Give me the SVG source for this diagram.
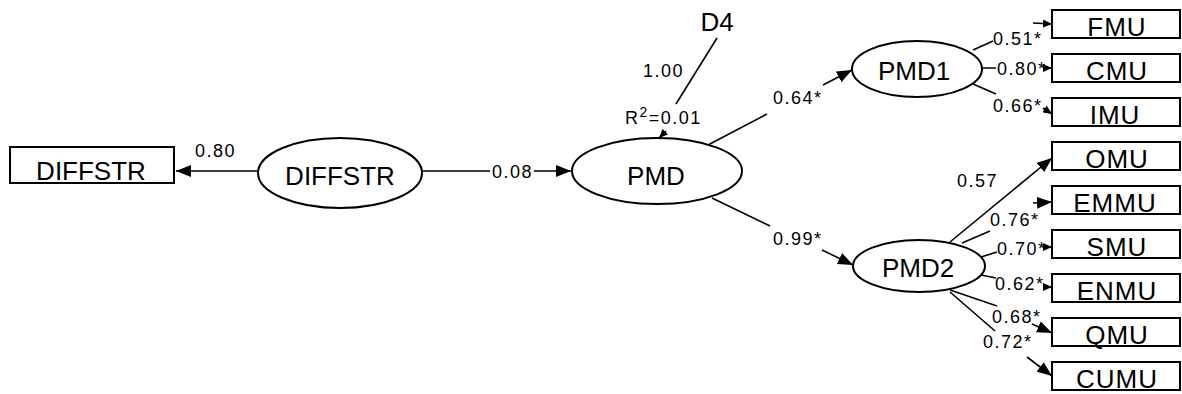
<svg xmlns="http://www.w3.org/2000/svg" width="1182" height="394" viewBox="0 0 1182 394">
<style>
.box{fill:#fff;stroke:#000;stroke-width:2}
.ell{fill:#fff;stroke:#000;stroke-width:2}
.big{font-family:"Liberation Sans",Arial,sans-serif;font-size:26px;fill:#000;text-anchor:middle}
.bx{font-family:"Liberation Sans",Arial,sans-serif;font-size:26px;letter-spacing:1px;fill:#000;text-anchor:middle}
.lbl{font-family:"Liberation Sans",Arial,sans-serif;font-size:18px;letter-spacing:1.5px;fill:#000}
.con{fill:none;stroke:#000;stroke-width:1.6}
</style>
<defs>
<marker id="ah" markerUnits="userSpaceOnUse" markerWidth="16" markerHeight="12" refX="15" refY="6" orient="auto">
<path d="M0,0 L15,6 L0,12 z" fill="#000"/>
</marker>
<marker id="as" markerUnits="userSpaceOnUse" markerWidth="10" markerHeight="8" refX="9" refY="4" orient="auto">
<path d="M0,0 L9,4 L0,8 z" fill="#000"/>
</marker>
</defs>
<rect width="1182" height="394" fill="#fff"/>

<g id="connectors">
<path class="con" d="M258,171 L176,171" marker-end="url(#ah)"/>
<path class="con" d="M422,171 L490,171 M534,171 L571,171" marker-end="url(#ah)"/>
<path class="con" d="M717,38 L676,104 M666,131 L659,138" marker-end="url(#as)"/>
<path class="con" d="M708,145 L767,114 M823,85 L852,70" marker-end="url(#ah)"/>
<path class="con" d="M712,198 L770,226 M822,250 L853,265" marker-end="url(#ah)"/>
<path class="con" d="M973,50 L993,41 M1033,23 L1052,24" marker-end="url(#as)"/>
<path class="con" d="M983,68 L996,68 M1046,68 L1052,68" marker-end="url(#as)"/>
<path class="con" d="M973,84 L996,94 M1043,108 L1052,114" marker-end="url(#as)"/>
<path class="con" d="M950,242 L1052,158" marker-end="url(#ah)"/>
<path class="con" d="M962,243 L990,231 M1033,203 L1052,202" marker-end="url(#ah)"/>
<path class="con" d="M981,257 L997,252 M1045,247 L1052,247" marker-end="url(#as)"/>
<path class="con" d="M981,275 L996,278 M1044,287 L1052,287" marker-end="url(#as)"/>
<path class="con" d="M950,290 L997,306 M1032,324 L1052,333" marker-end="url(#ah)"/>
<path class="con" d="M950,292 L995,331 M1027,357 L1052,376" marker-end="url(#ah)"/>
</g>

<g id="labels">
<text class="lbl" x="195" y="157">0.80</text>
<text class="lbl" x="492" y="178">0.08</text>
<text class="lbl" x="643" y="77">1.00</text>
<text class="lbl" x="625" y="124">R<tspan dy="-7" font-size="14">2</tspan><tspan dy="7">=0.01</tspan></text>
<text class="lbl" x="773" y="104">0.64*</text>
<text class="lbl" x="773" y="245">0.99*</text>
<text class="lbl" x="993" y="45">0.51*</text>
<text class="lbl" x="997" y="75">0.80*</text>
<text class="lbl" x="993" y="112">0.66*</text>
<text class="lbl" x="957" y="187">0.57</text>
<text class="lbl" x="990" y="226">0.76*</text>
<text class="lbl" x="997" y="255">0.70*</text>
<text class="lbl" x="995" y="290">0.62*</text>
<text class="lbl" x="992" y="323">0.68*</text>
<text class="lbl" x="983" y="348">0.72*</text>
</g>

<g id="D4"><text class="big" x="717" y="31">D4</text></g>

<g id="DIFFSTR_obs">
<rect class="box" x="10" y="147" width="164" height="36"/>
<text class="big" x="91" y="180" font-size="27">DIFFSTR</text>
</g>
<g id="DIFFSTR_lat">
<ellipse class="ell" cx="340" cy="173" rx="82" ry="35"/>
<text class="big" x="340" y="185" font-size="27">DIFFSTR</text>
</g>
<g id="PMD">
<ellipse class="ell" cx="657" cy="171" rx="85" ry="33"/>
<text class="big" x="656" y="185" font-size="27">PMD</text>
</g>
<g id="PMD1">
<ellipse class="ell" cx="917" cy="69" rx="65" ry="28"/>
<text class="big" x="914" y="80">PMD1</text>
</g>
<g id="PMD2">
<ellipse class="ell" cx="919" cy="266" rx="66" ry="26"/>
<text class="big" x="918" y="277">PMD2</text>
</g>

<g id="FMU"><rect class="box" x="1052" y="10" width="128" height="28"/><text class="bx" x="1117" y="36">FMU</text></g>
<g id="CMU"><rect class="box" x="1052" y="54" width="128" height="28"/><text class="bx" x="1117" y="80">CMU</text></g>
<g id="IMU"><rect class="box" x="1052" y="98" width="128" height="28"/><text class="bx" x="1115" y="124">IMU</text></g>
<g id="OMU"><rect class="box" x="1052" y="142" width="128" height="28"/><text class="bx" x="1117" y="168">OMU</text></g>
<g id="EMMU"><rect class="box" x="1052" y="186" width="128" height="28"/><text class="bx" x="1115" y="212">EMMU</text></g>
<g id="SMU"><rect class="box" x="1052" y="230" width="128" height="28"/><text class="bx" x="1117" y="256">SMU</text></g>
<g id="ENMU"><rect class="box" x="1052" y="274" width="128" height="28"/><text class="bx" x="1117" y="300">ENMU</text></g>
<g id="QMU"><rect class="box" x="1052" y="318" width="128" height="28"/><text class="bx" x="1117" y="344">QMU</text></g>
<g id="CUMU"><rect class="box" x="1052" y="362" width="128" height="28"/><text class="bx" x="1117" y="388">CUMU</text></g>
</svg>
